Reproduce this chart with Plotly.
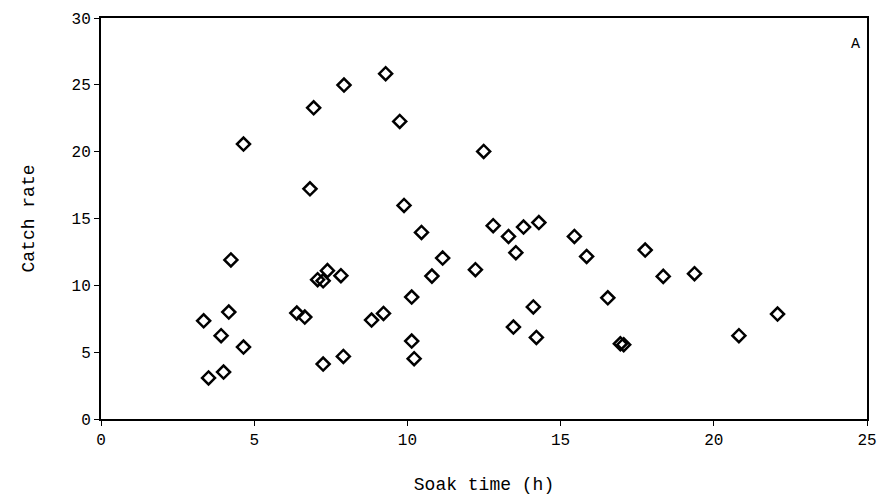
import plotly.graph_objects as go

soak_time = [4.24, 3.35, 4.17, 3.92, 4.65, 3.51, 4.00, 7.07, 7.25, 7.39, 7.83,
             6.39, 6.65, 7.25, 7.91, 8.83, 9.22, 4.65, 6.94, 7.93, 9.29, 6.82,
             9.75, 12.49, 9.89, 10.46, 11.15, 10.80, 10.14, 10.14, 10.22, 12.22,
             12.80, 13.30, 13.79, 14.29, 13.54, 14.11, 13.46, 14.21, 15.45, 15.85,
             16.54, 16.95, 17.06, 17.76, 18.35, 19.37, 20.82, 22.08]
catch_rate = [11.9, 7.35, 8.0, 6.23, 5.38, 3.07, 3.51, 10.42, 10.34, 11.1, 10.72,
              7.93, 7.63, 4.11, 4.68, 7.4, 7.9, 20.57, 23.28, 24.98, 25.83, 17.22,
              22.26, 20.02, 15.98, 13.96, 12.04, 10.69, 9.12, 5.83, 4.51, 11.17,
              14.46, 13.66, 14.36, 14.7, 12.44, 8.38, 6.88, 6.1, 13.66, 12.16,
              9.07, 5.63, 5.56, 12.64, 10.67, 10.87, 6.23, 7.85]

x_ticks = [0, 5, 10, 15, 20, 25]
y_ticks = [0, 5, 10, 15, 20, 25, 30]

FONT = "Liberation Mono"

fig = go.Figure(go.Scatter(
    x=soak_time, y=catch_rate, mode="markers",
    marker=dict(symbol="diamond-open", size=10, color="black",
                line=dict(width=2.5, color="black")),
    cliponaxis=False,
))

axis_common = dict(
    showgrid=False, zeroline=False, showline=True, linecolor="black",
    linewidth=2, mirror=True, ticks="outside", ticklen=5, tickwidth=1,
    tickcolor="black", tickfont=dict(family=FONT, size=16, color="black"),
    automargin=False,
)

fig.update_xaxes(range=[0, 25], tickvals=x_ticks,
                 title=dict(text="Soak time (h)", standoff=28,
                            font=dict(family=FONT, size=18, color="black")),
                 **axis_common)
fig.update_yaxes(range=[0, 30], tickvals=y_ticks,
                 title=dict(text="Catch rate", standoff=32,
                            font=dict(family=FONT, size=18, color="black")),
                 **axis_common)

fig.add_annotation(text="A", xref="x domain", yref="y domain", x=0.993, y=0.935,
                   xanchor="right", yanchor="middle", showarrow=False,
                   font=dict(family=FONT, size=15, color="black"))

fig.update_layout(
    width=882, height=498, plot_bgcolor="white", paper_bgcolor="white",
    margin=dict(l=101, r=15, t=18, b=79), showlegend=False,
)

fig.write_html("out.html", config={"displayModeBar": False},
               post_script="document.body.style.margin='0';document.body.style.overflow='hidden';")
